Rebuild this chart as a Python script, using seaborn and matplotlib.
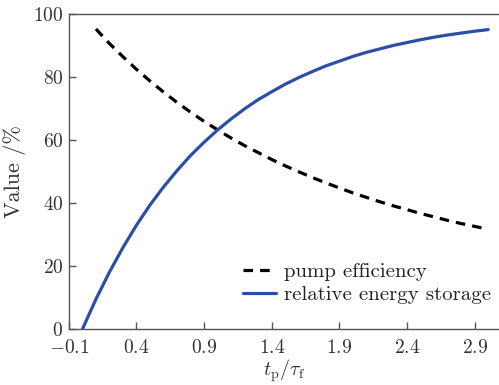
import matplotlib
matplotlib.use("Agg")
import matplotlib.pyplot as plt
import seaborn as sns
import pandas as pd

# data
t_storage = [0.0, 0.1, 0.2, 0.3, 0.4, 0.5, 0.6, 0.7, 0.8, 0.9, 1.0, 1.1, 1.2, 1.3, 1.4, 1.5,
             1.6, 1.7, 1.8, 1.9, 2.0, 2.1, 2.2, 2.3, 2.4, 2.5, 2.6, 2.7, 2.8, 2.9, 3.0]
relative_energy_storage = [0.0, 9.5, 18.1, 25.9, 33.0, 39.4, 45.1, 50.3, 55.1, 59.3, 63.2, 66.7,
                           69.9, 72.8, 75.3, 77.7, 79.8, 81.7, 83.5, 85.0, 86.5, 87.8, 88.9,
                           90.0, 90.9, 91.8, 92.6, 93.3, 93.9, 94.5, 95.0]
t_pump = [0.1, 0.2, 0.3, 0.4, 0.5, 0.6, 0.7, 0.8, 0.9, 1.0, 1.1, 1.2, 1.3, 1.4, 1.5,
          1.6, 1.7, 1.8, 1.9, 2.0, 2.1, 2.2, 2.3, 2.4, 2.5, 2.6, 2.7, 2.8, 2.9, 3.0]
pump_efficiency = [95.2, 90.6, 86.4, 82.4, 78.7, 75.2, 71.9, 68.8, 65.9, 63.2, 60.6, 58.2,
                   56.0, 53.8, 51.8, 49.9, 48.1, 46.4, 44.8, 43.2, 41.8, 40.4, 39.1, 37.9,
                   36.7, 35.6, 34.5, 33.5, 32.6, 31.7]
x_ticks = [-0.1, 0.4, 0.9, 1.4, 1.9, 2.4, 2.9]
y_ticks = [0, 20, 40, 60, 80, 100]

sns.set_style("ticks")
plt.rcParams.update({
    "font.family": ["cmr10", "DejaVu Serif"],
    "mathtext.fontset": "cm",
    "axes.formatter.use_mathtext": True,
    "axes.unicode_minus": True,
    "xtick.direction": "in",
    "ytick.direction": "in",
    "axes.edgecolor": "#555555",
    "xtick.color": "#555555",
    "ytick.color": "#555555",
    "xtick.labelcolor": "#333333",
    "ytick.labelcolor": "#333333",
    "axes.labelcolor": "#333333",
})

df_pump = pd.DataFrame({"t": t_pump, "v": pump_efficiency})
df_store = pd.DataFrame({"t": t_storage, "v": relative_energy_storage})

fig = plt.figure(figsize=(4.99, 3.85), dpi=100)
ax = fig.add_axes([0.138, 0.145, 0.862, 0.819])

sns.lineplot(data=df_pump, x="t", y="v", ax=ax, color="black", linewidth=2.3,
             label="pump efficiency")
ax.lines[-1].set_dashes([3.0, 2.2])
sns.lineplot(data=df_store, x="t", y="v", ax=ax, color="#2b4fa6", linewidth=2.3,
             label="relative energy storage")

ax.set_xlim(-0.1, 3.08)
ax.set_ylim(0, 100)
ax.set_xticks(x_ticks)
ax.set_yticks(y_ticks)
ax.tick_params(axis="both", length=5, width=1, labelsize=14, top=False, right=False)
ax.tick_params(axis="x", pad=7)
ax.tick_params(axis="y", pad=4)
for s in ax.spines.values():
    s.set_linewidth(1.0)
ax.spines["right"].set_visible(False)

ax.set_xlabel(r"$t_{\mathrm{p}}/\tau_{\mathrm{f}}$", fontsize=14.5, labelpad=0)
ax.set_ylabel("Value /%", fontsize=16, labelpad=5)

leg = ax.legend(loc="lower right", bbox_to_anchor=(1.01, 0.04), frameon=False, fontsize=15,
                handlelength=1.6, handletextpad=0.35, labelspacing=0.2, borderaxespad=0.2)
for txt in leg.get_texts():
    txt.set_color("#222222")

fig.savefig("out.png", dpi=100)
